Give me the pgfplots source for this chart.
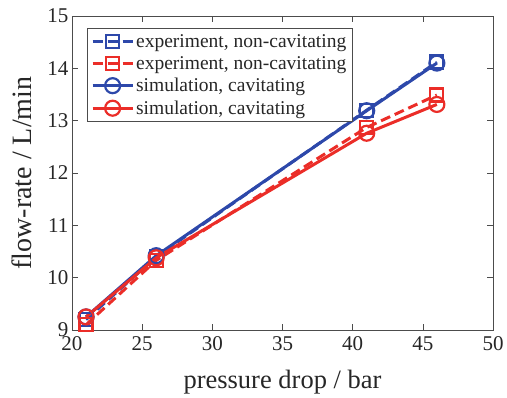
\documentclass[border=0pt]{standalone}
\usepackage{fontspec}
\setmainfont{Liberation Serif}
\usepackage{pgfplots}
\pgfplotsset{compat=1.18}
\usetikzlibrary{calc}
\definecolor{cblue}{RGB}{45,72,170}
\definecolor{cred}{RGB}{235,45,40}
\begin{document}
\begin{tikzpicture}
\begin{axis}[
  width=421pt, height=314pt, scale only axis,
  xmin=20, xmax=50, ymin=9, ymax=15,
  xtick={20,25,...,50}, ytick={9,...,15},
  tick align=inside, major tick length=6pt,
  tick style={black!70, line width=0.6pt},
  axis line style={black!70, line width=0.8pt},
  /pgf/number format/assume math mode=true,
  tick label style={font=\fontsize{21}{24}\selectfont, text=black!85},
  xticklabel style={yshift=-3pt},
  xlabel={pressure drop / bar}, ylabel={flow-rate / L/min},
  label style={text=black!85},
  xlabel style={font=\fontsize{26.5}{28}\selectfont, at={(axis description cs:0.5,-0.185)}, anchor=base},
  ylabel style={font=\fontsize{28}{30}\selectfont, at={(axis description cs:-0.12,0.5)}, anchor=center},
  legend style={at={(0.035,0.962)}, anchor=north west, draw=black!70, line width=0.8pt,
    font=\fontsize{19.5}{21}\selectfont, row sep=3.5pt, inner sep=4pt, text=black!85},
  legend cell align=left,
  legend image code/.code={
    \draw[#1, mark repeat=2, mark phase=2] plot coordinates {(0pt,0pt) (20pt,0pt) (40pt,0pt)};},
]
\addplot[cblue, dash pattern=on 10pt off 5pt, line width=3pt, mark=square, mark size=6.5pt, mark options={solid, line width=2.2pt}]
  coordinates {(21,9.2) (26,10.4) (41,13.2) (46,14.12)};
\addlegendentry{experiment, non-cavitating}
\addplot[cred, dash pattern=on 10pt off 5pt, line width=3pt, mark=square, mark size=6.5pt, mark options={solid, line width=2.2pt}]
  coordinates {(21,9.1) (26,10.33) (41,12.87) (46,13.49)};
\addlegendentry{experiment, non-cavitating}
\addplot[cblue, line width=3pt, mark=o, mark size=7.5pt, mark options={solid, line width=2.2pt}]
  coordinates {(21,9.25) (26,10.42) (41,13.19) (46,14.1)};
\addlegendentry{simulation, cavitating}
\addplot[cred, line width=3pt, mark=o, mark size=7.5pt, mark options={solid, line width=2.2pt}]
  coordinates {(21,9.25) (26,10.38) (41,12.76) (46,13.31)};
\addlegendentry{simulation, cavitating}
\end{axis}
\pgfresetboundingbox
\path[use as bounding box] ($(current axis.south west)+(-72pt,-67pt)$) rectangle ($(current axis.north east)+(14pt,16pt)$);
\end{tikzpicture}
\end{document}
